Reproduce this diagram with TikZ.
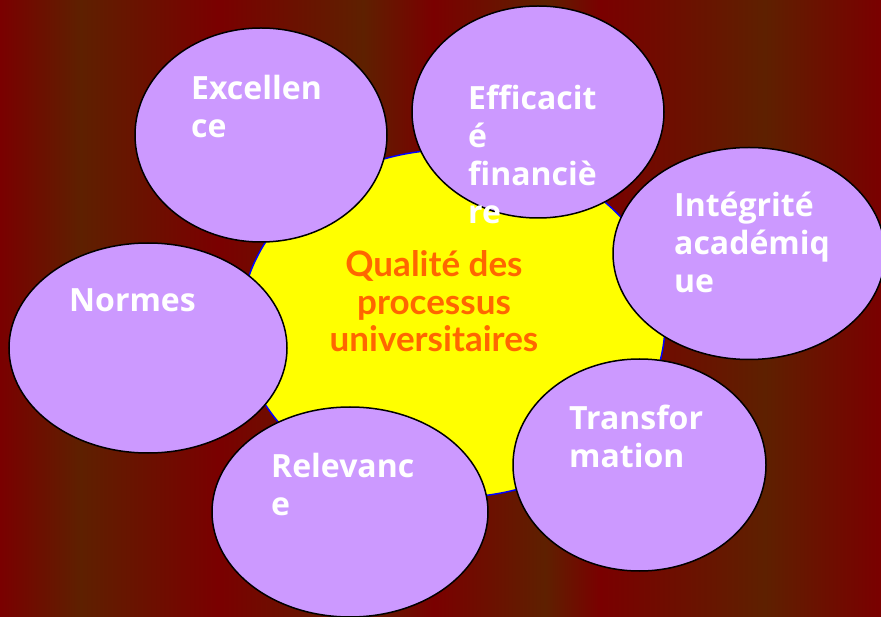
\documentclass[tikz,border=0pt]{standalone}
\usepackage{fontspec}
\setmainfont{Open Sans}
\newfontfamily\latofont{Lato}
\usetikzlibrary{shapes.geometric}
\definecolor{bgred}{HTML}{7A0000}
\definecolor{bgbrown}{HTML}{5E2000}
\definecolor{lilac}{HTML}{CC99FF}
\definecolor{centerorange}{HTML}{FF6600}
\definecolor{rimblue}{HTML}{0000FF}
\definecolor{centreyellow}{HTML}{FFFF00}
\newcommand{\leftlines}[1]{\vtop{\baselineskip=38pt\lineskiplimit=-50pt\halign{##\hfil\cr#1\crcr}}}
\newcommand{\midlines}[1]{\vtop{\baselineskip=37.5pt\lineskiplimit=-50pt\halign{\hfil##\hfil\cr#1\crcr}}}
\begin{document}
\begin{tikzpicture}[x=1pt,y=-1pt,
  bubble/.style={ellipse, draw=black, line width=1.5pt, fill=lilac, inner sep=0pt},
  lbl/.style={anchor=base west, inner sep=0pt, text=white, font=\fontsize{32}{38}\selectfont\bfseries}]
\useasboundingbox (0,0) rectangle (881,617);
% background stripes
\shade[left color=bgred, right color=bgbrown] (0,0) rectangle (80.5,617);
\shade[left color=bgbrown, right color=bgred] (80,0) rectangle (217.5,617);
\shade[left color=bgred, right color=bgbrown] (217,0) rectangle (363.5,617);
\shade[left color=bgbrown, right color=bgred] (363,0) rectangle (433.5,617);
\shade[left color=bgred, right color=bgbrown] (433,0) rectangle (545.5,617);
\shade[left color=bgbrown, right color=bgred] (545,0) rectangle (600.5,617);
\shade[left color=bgred, right color=bgbrown] (600,0) rectangle (765.5,617);
\shade[left color=bgbrown, right color=bgred] (765,0) rectangle (881,617);
% central shape
\node[ellipse, fill=centreyellow, draw=rimblue, line width=1.5pt, inner sep=0pt,
      minimum width=424pt, minimum height=348pt] (centre) at (453,323.5) {};
% bubbles
\node[bubble, minimum width=252pt, minimum height=214pt] (excellence) at (261,135) {};
\node[bubble, minimum width=252pt, minimum height=212pt] (efficacite) at (538,112) {};
\node[bubble, minimum width=272pt, minimum height=212pt] (integrite) at (749,253.5) {};
\node[bubble, minimum width=278pt, minimum height=210pt] (normes) at (148,348) {};
\node[bubble, minimum width=276pt, minimum height=210pt] (relevance) at (350,512) {};
\node[bubble, minimum width=253pt, minimum height=212pt] (transformation) at (639.5,465) {};
% texts
\node[anchor=base, inner sep=0pt, text=centerorange, font=\latofont\bfseries\fontsize{35}{37.5}\selectfont] (title) at (434,277) {\midlines{Qualité des\cr processus\cr universitaires}};
\node[lbl] (t-excellence) at (191,100) {\leftlines{Excellen\cr ce}};
\node[lbl] (t-efficacite) at (468,110) {\leftlines{Efficacit\cr é\cr financiè\cr re}};
\node[lbl] (t-integrite) at (674,217) {\leftlines{Intégrité\cr académiq\cr ue}};
\node[lbl] (t-normes) at (69,312) {\leftlines{Normes}};
\node[lbl] (t-relevance) at (271,477) {\leftlines{Relevanc\cr e}};
\node[lbl] (t-transformation) at (569,430) {\leftlines{Transfor\cr mation}};
\end{tikzpicture}
\end{document}
